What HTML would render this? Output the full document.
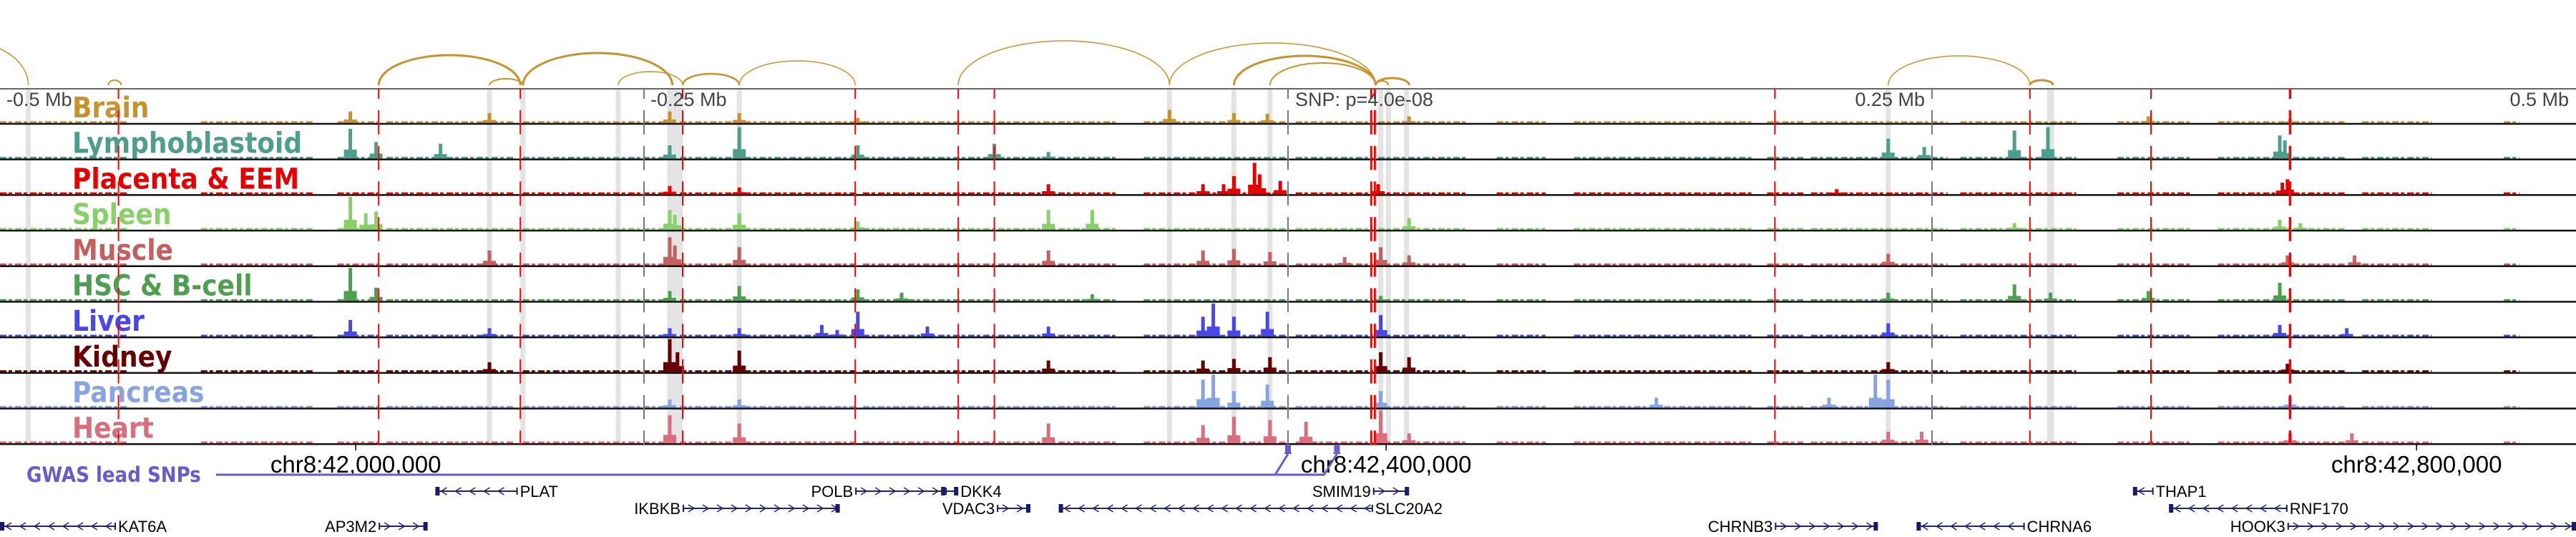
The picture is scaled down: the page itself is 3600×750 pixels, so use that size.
<!DOCTYPE html>
<html><head><meta charset="utf-8"><style>
html,body{margin:0;padding:0;background:#fff;width:3600px;height:750px;overflow:hidden}
svg{display:block}
.tl{font-family:"DejaVu Sans Condensed","DejaVu Sans",sans-serif;font-stretch:condensed;font-weight:bold;font-size:40px}
.mb{font-family:"Liberation Sans",sans-serif;font-size:27px;fill:#444}
.ax{font-family:"Liberation Sans",sans-serif;font-size:33px;fill:#000}
.gn{font-family:"Liberation Sans",sans-serif;font-size:22px;fill:#000}
</style></head><body>
<svg id="chart" width="3600" height="750" viewBox="0 0 3600 750" xmlns="http://www.w3.org/2000/svg">
<g id="bg"></g><g id="arcs"></g><g id="labels"></g><g id="tracks"></g><g id="vlines"></g><g id="mblabels"></g><g id="axis"></g><g id="gwas"></g><g id="genes"></g>
</svg>
<script>
// ---- data (kb relative to lead SNP) ----
const trackNames = ["Brain","Lymphoblastoid","Placenta & EEM","Spleen","Muscle","HSC & B-cell","Liver","Kidney","Pancreas","Heart"];
const trackColors = ["#c8922f","#4d9e8c","#e60000","#88d068","#c46060","#4ea050","#4848e8","#660000","#88a4e0","#d86e7e"];
const brainPeaks = [[-364,0.35],[-310,0.3],[-240,0.35],[-213,0.3],[-167,0.15],[-46,0.4],[-21,0.3],[-8,0.28],[47,0.2],[334,0.2],[389,0.12]];
const lymphPeaks = [[-364,0.9],[-354,0.5],[-329,0.45],[-240,0.4],[-213,0.95],[-167,0.4],[-114,0.45],[-93,0.2],[233,0.6],[247,0.35],[282,0.85],[295,0.95],[385,0.7],[387,0.55]];
const placentaPeaks = [[-240,0.25],[-213,0.2],[-93,0.3],[-33,0.3],[-25,0.3],[-21,0.55],[-13,0.95],[-11,0.6],[-3,0.4],[35,0.3],[388,0.45],[386,0.35],[213,0.15]];
const spleenPeaks = [[-364,1.0],[-358,0.5],[-354,0.55],[-240,0.6],[-238,0.45],[-213,0.5],[-167,0.25],[-93,0.6],[-76,0.6],[47,0.35],[282,0.2],[385,0.3],[393,0.2]];
const musclePeaks = [[-310,0.45],[-240,0.85],[-238,0.6],[-213,0.55],[-93,0.45],[-33,0.45],[-21,0.5],[-7,0.4],[22,0.25],[36,0.55],[47,0.3],[233,0.35],[388,0.3],[414,0.3]];
const hscPeaks = [[-364,1.0],[-354,0.4],[-240,0.3],[-213,0.45],[-167,0.35],[-150,0.25],[-76,0.2],[36,0.15],[233,0.25],[282,0.5],[296,0.25],[334,0.3],[385,0.55]];
const liverPeaks = [[-364,0.5],[-310,0.25],[-240,0.25],[-213,0.25],[-181,0.35],[-175,0.2],[-167,0.75],[-140,0.3],[-93,0.3],[-33,0.6],[-29,1.0],[-21,0.6],[-8,0.75],[36,0.65],[233,0.4],[385,0.35],[411,0.25]];
const kidneyPeaks = [[-310,0.3],[-240,1.0],[-237,0.6],[-213,0.65],[-93,0.35],[-33,0.35],[-21,0.4],[-7,0.45],[36,0.6],[47,0.45],[233,0.3],[388,0.25]];
const pancreasPeaks = [[-240,0.25],[-213,0.25],[-33,0.85],[-29,1.0],[-21,0.5],[-8,0.7],[36,0.5],[143,0.3],[210,0.3],[228,1.0],[233,0.85],[389,0.3]];
const heartPeaks = [[-240,0.85],[-213,0.6],[-93,0.6],[-33,0.55],[-21,0.8],[-7,0.7],[7,0.65],[36,1.0],[47,0.3],[233,0.35],[246,0.35],[389,0.3],[413,0.3]];
const trackPeaks = [brainPeaks,lymphPeaks,placentaPeaks,spleenPeaks,musclePeaks,hscPeaks,liverPeaks,kidneyPeaks,pancreasPeaks,heartPeaks];
const coverageRuns = [[-500,-450],[-422,-378],[-369,-353],[-350,-300],[-297,-242],[-236,-214],[-211,-167],[-165,-67],[-56,0],[3,33],[35,69],[81,100],[111,181],[186,200],[203,256],[261,306],[322,350],[361,411],[417,444],[472,478]];
const redLines = [-454,-353,-298,-235,-168,-128,-114,33,189,288,335,389];
const redWeights = [1,1,1,1,1,1,1,3,1,1,1,2];
const grayBars = [-489,-310,-297,-260,-240,-238,-236,-213,-46,-21,-7,36,39,46,233,296];
const refLines = [-250,0,250];
const arcPairs = [[-536,-489],[-458,-453],[-353,-298],[-310,-297],[-297,-239],[-260,-235],[-235,-213],[-213,-168],[-128,-46],[-46,34],[-21,34],[-7,34],[34,39],[34,47],[233,288],[288,297]];
const arcHeights = [60,7,42,9,45,19,16,34,62,59,41,31,6,10,41,7];
const arcWeights = [1.5,2,3,2,3,1.5,2.5,1.5,1.5,1.5,3,2,2,3,1.5,3];
const mbTicks = ["-0.5 Mb","-0.25 Mb","0.25 Mb","0.5 Mb"];
const mbTickKb = [-500,-250,250,500];
const chrTicks = ["chr8:42,000,000","chr8:42,400,000","chr8:42,800,000"];
const chrTickKb = [-361.9,38.1,438.1];
const gwasSnps = [0,19];
const geneNames = ["KAT6A","AP3M2","PLAT","IKBKB","POLB","DKK4","VDAC3","SLC20A2","SMIM19","CHRNB3","CHRNA6","THAP1","RNF170","HOOK3"];
const geneStarts = [-500,-353,-331,-235,-168,-133,-113,-89,33,189,244,328,342,388];
const geneEnds = [-455,-334,-299,-174,-133,-128,-100,33,47,229,286,336,388,500];
const geneRows = [2,2,0,1,0,0,1,1,0,2,2,0,1,2];
const geneStrands = [-1,1,-1,1,1,1,1,-1,1,1,-1,-1,-1,1];
const geneLabelRight = [1,0,1,0,0,1,0,1,0,0,1,1,1,0];

// ---- scales ----
const NS="http://www.w3.org/2000/svg";
const xOf = kb => 1800 + kb*3.6;
const TOP=124, TH=49.7, MAXH=46;
const trackTop = i => TOP + i*TH;
function mk(tag, attrs, parent){const e=document.createElementNS(NS,tag);for(const k in attrs)e.setAttribute(k,attrs[k]);parent.appendChild(e);return e;}
const G=id=>document.getElementById(id);

grayBars.forEach((kb,i)=>{
  const w = i===grayBars.length-1?10:7;
  const r=mk('rect',{x:xOf(kb)-w/2,y:TOP,width:w,height:TH*10,fill:'#e3e3e3'},G('bg'));
  
  
});

arcPairs.forEach((p,i)=>{
  const x1=xOf(p[0]),x2=xOf(p[1]),rx=(x2-x1)/2,ry=arcHeights[i];
  const a=mk('path',{d:`M${x1},119 A${rx},${ry} 0 0 1 ${x2},119`,fill:'none',stroke:'#c8922f','stroke-width':arcWeights[i]},G('arcs'));
  
  
});

trackNames.forEach((name,i)=>{
  const t=trackTop(i), base=t+TH-2;
  const g=mk('g',{},G('tracks'));
  
  
  const lab=mk('text',{x:101,y:t+40,class:'tl',fill:trackColors[i]},G('labels'));
  lab.textContent=name;
  
  
  coverageRuns.forEach(r=>{
    const b=mk('line',{x1:xOf(r[0]),x2:xOf(r[1]),y1:base-1.2,y2:base-1.2,stroke:trackColors[i],'stroke-width':2.5,'stroke-dasharray':'9 3 5 4'},g);
    
    
  });
  trackPeaks[i].forEach(p=>{
    const h=p[1]*MAXH;
    const b=mk('rect',{x:xOf(p[0])-2.5,y:base-h,width:5,height:h,fill:trackColors[i]},g);
    
    
    const s=mk('rect',{x:xOf(p[0])-9,y:base-h*0.3,width:18,height:h*0.3,fill:trackColors[i]},g);
    
    
  });
  const ln=mk('rect',{x:0,y:t+TH-2,width:3600,height:2.5,fill:'#111'},g);
  
  
});
const topLine=mk('rect',{x:0,y:TOP-1,width:3600,height:2,fill:'#666'},G('tracks'));



refLines.forEach(kb=>{
  const l=mk('line',{x1:xOf(kb),x2:xOf(kb),y1:TOP,y2:TOP+TH*10,stroke:'#777','stroke-width':2,'stroke-dasharray':'33.7 16','stroke-dashoffset':19.7},G('vlines'));
  
  
});
redLines.forEach((kb,i)=>{
  const w=redWeights[i];
  const offs = w===3?[-2.5,2.5]:[0];
  offs.forEach(o=>{
    const l=mk('line',{x1:xOf(kb)+o,x2:xOf(kb)+o,y1:TOP,y2:TOP+TH*10,stroke:'#f00','stroke-width':w===3?3:(w===2?3.5:2),'stroke-dasharray':'33.7 16','stroke-dashoffset':19.7},G('vlines'));
    
    
  });
});

mbTicks.forEach((t,i)=>{
  const x=xOf(mbTickKb[i]);
  const right = mbTickKb[i]>0;
  const tx=mk('text',{x:right?x-10:x+9,y:148,class:'mb','text-anchor':right?'end':'start'},G('mblabels'));
  tx.textContent=t;
  
  
});
const snpT=mk('text',{x:1810,y:148,class:'mb'},G('mblabels'));
snpT.textContent='SNP: p=4.0e-08';



chrTicks.forEach((t,i)=>{
  const x=xOf(chrTickKb[i]);
  const tk=mk('line',{x1:x,x2:x,y1:621,y2:629,stroke:'#000','stroke-width':1.5},G('axis'));
  
  
  const tx=mk('text',{x:x,y:660,class:'ax','text-anchor':'middle'},G('axis'));
  tx.textContent=t;
  
  
});

const gl=mk('text',{x:37,y:673,class:'tl',fill:'#6a5acd'},G('gwas'));
gl.setAttribute('style','font-size:29px');
gl.textContent='GWAS lead SNPs';


let px=302;
gwasSnps.forEach(kb=>{
  const x=xOf(kb), bx=x-18;
  const p=mk('polyline',{points:`${px},663 ${bx},663 ${x},634`,fill:'none',stroke:'#6a5acd','stroke-width':3},G('gwas'));
  
  
  const m=mk('rect',{x:x-4,y:622,width:8,height:10,fill:'#6a5acd'},G('gwas'));
  
  
  mk('rect',{x:x-5,y:632,width:10,height:2,fill:'#6a5acd'},G('gwas'));
  px=bx;
});

const rowY=[686,710,735];
geneNames.forEach((n,i)=>{
  const x1=xOf(geneStarts[i]), x2=Math.min(xOf(geneEnds[i]),3600), y=rowY[geneRows[i]];
  const g=mk('g',{},G('genes'));
  
  
  mk('line',{x1:x1,x2:x2,y1:y,y2:y,stroke:'#22227a','stroke-width':2},g);
  const s=geneStrands[i];
  for(let x=x1+12;x<x2-6;x+=20){
    mk('polyline',{points:`${x-4*s},${y-5} ${x+4*s},${y} ${x-4*s},${y+5}`,fill:'none',stroke:'#22227a','stroke-width':1.5},g);
  }
  mk('rect',{x:s>0?x2-6:x1,y:y-6,width:6,height:12,fill:'#1a1a6a'},g);
  mk('rect',{x:s>0?x1:x2-2,y:y-5,width:2,height:10,fill:'#1a1a6a'},g);
  const right=geneLabelRight[i];
  const t=mk('text',{x:right?x2+3:x1-3,y:y+8,class:'gn','text-anchor':right?'start':'end'},g);
  t.textContent=n;
});
</script>
</body></html>
